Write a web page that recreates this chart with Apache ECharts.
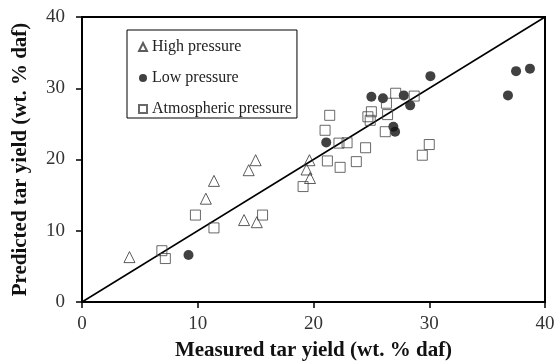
<!DOCTYPE html>
<html>
<head>
<meta charset="utf-8">
<script src="https://cdn.jsdelivr.net/npm/echarts@6/dist/echarts.min.js"></script>
<style>
  html, body { margin: 0; padding: 0; background: #fff; }
  #chart { width: 557px; height: 363px; }
</style>
</head>
<body>
<div id="chart"></div>
<script>
const xTicks = [0, 10, 20, 30, 40]
const yTicks = [0, 10, 20, 30, 40]

const highPressure = [
  [4.1, 6.3], [10.7, 14.5], [11.4, 17.0], [14.0, 11.5], [15.1, 11.2],
  [14.4, 18.5], [15.0, 19.9], [19.4, 18.6], [19.65, 19.9], [19.7, 17.4]
]
const lowPressure = [
  [9.2, 6.6], [21.1, 22.4], [25.0, 28.8], [26.0, 28.6], [27.8, 29.0],
  [28.35, 27.6], [26.9, 24.6], [27.05, 23.9], [30.1, 31.7], [36.8, 29.0],
  [37.5, 32.4], [38.7, 32.75]
]
const atmPressure = [
  [6.9, 7.2], [7.2, 6.1], [9.8, 12.2], [11.4, 10.4], [15.6, 12.2],
  [19.1, 16.2], [21.0, 24.1], [21.4, 26.2], [21.2, 19.8], [22.2, 22.3],
  [22.9, 22.35], [22.3, 18.9], [23.7, 19.7], [24.5, 21.65], [24.7, 26.0],
  [24.9, 25.5], [25.0, 26.7], [26.3, 27.9], [26.4, 26.3], [26.2, 23.9],
  [27.1, 29.3], [28.7, 28.9], [29.4, 20.6], [30.0, 22.1]
]
const parityLine = [[0, 0], [40, 40]]

const font = "'Liberation Serif', 'DejaVu Serif', serif"

const chart = echarts.init(document.getElementById('chart'))

const axisCommon = {
  min: 0,
  max: 40,
  interval: 10,
  splitLine: { show: false },
  axisLine: { show: true, onZero: false, lineStyle: { color: '#000', width: 1.5 } },
  axisTick: { show: true, inside: false, length: 6, lineStyle: { color: '#000', width: 1.5 } },
  axisLabel: { color: '#333', fontFamily: font, fontSize: 19 },
  nameLocation: 'middle',
  nameTextStyle: { color: '#111', fontFamily: font, fontSize: 21, fontWeight: 'bold' }
}

const option = {
  animation: false,
  backgroundColor: '#fff',
  grid: {
    left: 82, right: 12, top: 17, bottom: 61,
    outerBoundsMode: 'none', containLabel: false,
    show: true, borderColor: '#000', borderWidth: 2
  },
  xAxis: Object.assign({}, axisCommon, {
    type: 'value',
    name: 'Measured tar yield (wt. % daf)',
    nameGap: 38,
    axisLabel: Object.assign({}, axisCommon.axisLabel, { margin: 13, formatter: v => xTicks.includes(v) ? String(v) : '' })
  }),
  yAxis: Object.assign({}, axisCommon, {
    type: 'value',
    name: 'Predicted tar yield (wt. % daf)',
    nameGap: 51,
    axisLabel: Object.assign({}, axisCommon.axisLabel, { margin: 17, formatter: v => yTicks.includes(v) ? String(v) : '' })
  }),
  legend: {
    orient: 'vertical',
    left: 127,
    top: 30,
    padding: [9, 5, 1, 11],
    itemGap: 15,
    itemWidth: 8,
    itemHeight: 8,
    borderColor: '#000',
    borderWidth: 1,
    backgroundColor: '#fff',
    textStyle: { color: '#222', fontFamily: font, fontSize: 16 },
    data: ['High pressure', 'Low pressure', 'Atmospheric pressure']
  },
  series: [
    {
      type: 'line',
      data: parityLine,
      symbol: 'none',
      silent: true,
      lineStyle: { color: '#000', width: 1.5 },
      z: 1
    },
    {
      name: 'High pressure',
      type: 'scatter',
      symbol: 'triangle',
      symbolSize: 11,
      data: highPressure,
      itemStyle: { color: 'rgba(255,255,255,0)', borderColor: '#333', borderWidth: 1 }
    },
    {
      name: 'Low pressure',
      type: 'scatter',
      symbol: 'circle',
      symbolSize: 10,
      data: lowPressure,
      itemStyle: { color: '#111' }
    },
    {
      name: 'Atmospheric pressure',
      type: 'scatter',
      symbol: 'rect',
      symbolSize: 10,
      data: atmPressure,
      itemStyle: { color: 'rgba(255,255,255,0)', borderColor: '#444', borderWidth: 1 }
    }
  ]
}

chart.setOption(option)
</script>
</body>
</html>
